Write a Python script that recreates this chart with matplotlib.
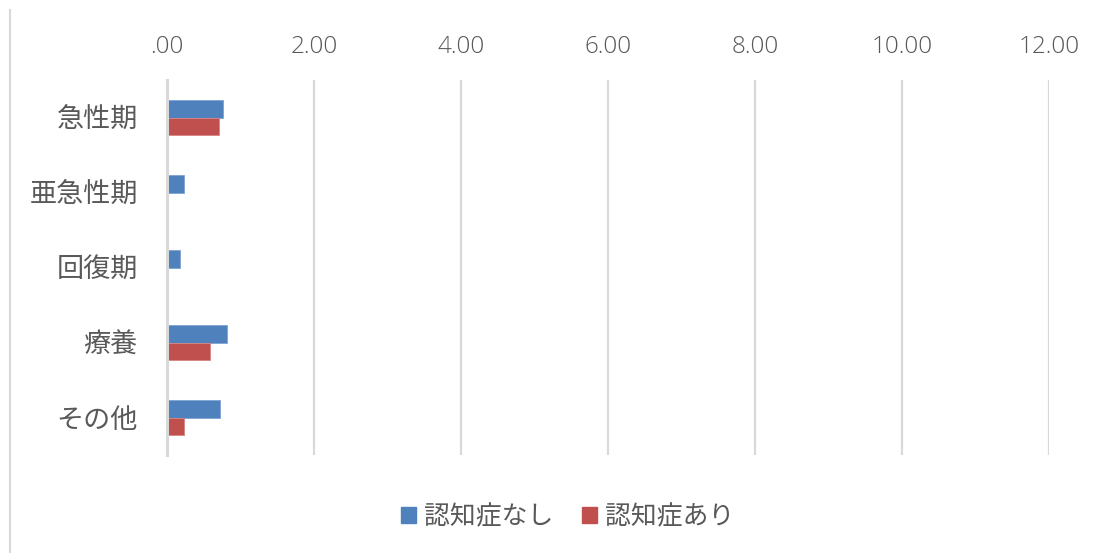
import matplotlib.pyplot as plt
import numpy as np
from matplotlib.lines import Line2D
from matplotlib.ticker import FuncFormatter

# 病床機能別の平均値（認知症の有無別）
categories = ['急性期', '亜急性期', '回復期', '療養', 'その他']
no_dementia = [0.76, 0.23, 0.18, 0.82, 0.72]
with_dementia = [0.71, 0.0, 0.0, 0.58, 0.23]
series_names = ['認知症なし', '認知症あり']
xticks = [0, 2, 4, 6, 8, 10, 12]

blue = '#4F81BD'
red = '#C0504D'
grey_text = '#595959'
grid_col = '#D9D9D9'

jp = ['Noto Sans CJK JP', 'DejaVu Sans']
num = ['Open Sans', 'DejaVu Sans']

fig = plt.figure(figsize=(11.06, 5.53), dpi=100)
ax = fig.add_axes([0.151, 0.1772, 0.7975, 0.678])

y = np.arange(len(categories))
h = 0.235
ax.barh(y - h / 2, no_dementia, height=h, color=blue, edgecolor='#7EA3D3', linewidth=0.6)
ax.barh(y + h / 2, with_dementia, height=h, color=red, edgecolor='#D98583', linewidth=0.6)

ax.set_xlim(0, 12)
ax.set_ylim(len(categories) - 0.5, -0.5)
ax.set_yticks(y)
ax.set_yticklabels(categories, family=jp, fontsize=19.5, color=grey_text)

ax.xaxis.tick_top()
ax.set_xticks(xticks)
ax.xaxis.set_major_formatter(FuncFormatter(lambda v, p: '.00' if v == 0 else f'{v:.2f}'))
for lab in ax.get_xticklabels():
    lab.set_family(num)
    lab.set_fontsize(17.5)
    lab.set_color(grey_text)
    lab.set_fontweight('light')
ax.tick_params(axis='x', length=0, pad=15)
ax.tick_params(axis='y', length=0, pad=21)

for v in xticks[1:]:
    ax.axvline(v, color=grid_col, lw=1.6, zorder=0)
for s in ['top', 'right', 'bottom']:
    ax.spines[s].set_visible(False)
ax.spines['left'].set_color(grid_col)
ax.spines['left'].set_linewidth(2.2)

# chart frame edge on the left
fig.add_artist(Line2D([10 / 1106, 10 / 1106], [0, 1 - 10 / 553],
                      transform=fig.transFigure, color=grid_col, lw=1.5))

handles = [plt.Rectangle((0, 0), 1, 1, color=blue), plt.Rectangle((0, 0), 1, 1, color=red)]
fig.legend(handles, series_names, loc='center', bbox_to_anchor=(0.513, 0.066), ncol=2,
           frameon=False, prop={'family': jp, 'size': 18.6}, labelcolor=grey_text,
           handlelength=0.6, handleheight=0.6, handletextpad=0.3, columnspacing=1.1)

fig.savefig('out.png', dpi=100, facecolor='white')
